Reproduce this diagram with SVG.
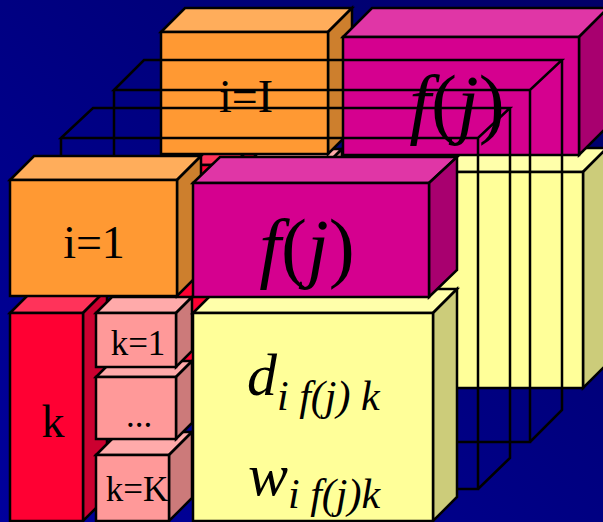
<svg xmlns="http://www.w3.org/2000/svg" width="603" height="522" viewBox="0 0 603 522">
<defs>
<linearGradient id="bg" x1="0" y1="1" x2="1" y2="0">
<stop offset="0" stop-color="#00009C"/>
<stop offset="1" stop-color="#000068"/>
</linearGradient>
<style>
.b{stroke:#000;stroke-width:2.5;stroke-linejoin:miter}
.o1{fill:#FF9933}.o2{fill:#FFAD5B}.o3{fill:#CD7F2D}
.m1{fill:#D5008F}.m2{fill:#E036A6}.m3{fill:#A8006F}
.y1{fill:#FFFF99}.y2{fill:#FFFFAA}.y3{fill:#CCCC7A}
.r1{fill:#FF0033}.r2{fill:#FF335A}.r3{fill:#CC0030}
.p1{fill:#FF9999}.p2{fill:#FFAAAA}.p3{fill:#CC7A7A}
.wf{fill:none;stroke:#000;stroke-width:2.5}
.t{font-family:"Liberation Serif","Times New Roman",serif;fill:#000}
.it{font-style:italic}
</style>
</defs>
<rect width="603" height="522" fill="url(#bg)"/>

<!-- back layer (i=I) -->
<g id="back-red">
<polygon class="b r2" points="160,165 184,141 257,141 233,165"/>
<polygon class="b r3" points="233,165 257,141 257,348 233,372"/>
<rect class="b r1" x="160" y="165" width="73" height="207"/>
</g>
<g id="back-pink">
<polygon class="b p2" points="246,165 262,149 342,149 326,165"/>
<polygon class="b p3" points="326,165 342,149 342,203 326,219"/>
<rect class="b p1" x="246" y="165" width="80" height="54"/>
</g>
<g id="back-yellow">
<polygon class="b y2" points="343,172 367,148 607,148 583,172"/>
<polygon class="b y3" points="583,172 607,148 607,364 583,388"/>
<rect class="b y1" x="343" y="172" width="240" height="216"/>
</g>
<g id="back-orange">
<polygon class="b o2" points="161,32 185,8 352,8 328,32"/>
<polygon class="b o3" points="328,32 352,8 352,130 328,154"/>
<rect class="b o1" x="161" y="32" width="167" height="122"/>
<text class="t" x="246" y="112" font-size="46" text-anchor="middle">i=I</text>
</g>
<g id="back-magenta">
<polygon class="b m2" points="343,37 372,8 608,8 579,37"/>
<polygon class="b m3" points="579,37 608,8 608,126 579,155"/>
<rect class="b m1" x="343" y="37" width="236" height="118"/>
<text class="t" x="457" y="129" font-size="78" text-anchor="middle"><tspan class="it">f</tspan>(<tspan class="it">j</tspan>)</text>
</g>

<!-- intermediate i-slices (wireframes) -->
<g id="connectors">
<g id="slice-1">
<path class="wf" d="M114,90 L144,60 L562,60 L530,90 Z M114,90 V442 H530 V90 M530,442 L562,410 V60"/>
</g>
<g id="slice-2">
<path class="wf" d="M61,138 L93,108 L510,108 L478,138 Z M61,138 V489 H478 V138 M478,489 L510,458 V108"/>
</g>
</g>

<!-- front layer (i=1) -->
<g id="red-k">
<polygon class="b r2" points="10,313 34,289 107,289 83,313"/>
<polygon class="b r3" points="83,313 107,289 107,497 83,521"/>
<rect class="b r1" x="10" y="313" width="73" height="208"/>
<text class="t" x="53" y="437" font-size="46" text-anchor="middle">k</text>
</g>
<g id="pink-kK">
<polygon class="b p2" points="96,455 119,432 192,432 169,455"/>
<polygon class="b p3" points="169,455 192,432 192,498 169,521"/>
<rect class="b p1" x="96" y="455" width="73" height="66"/>
<text class="t" x="137" y="501" font-size="35" text-anchor="middle">k=K</text>
</g>
<g id="pink-dots">
<polygon class="b p2" points="96,377 112,361 192,361 176,377"/>
<polygon class="b p3" points="176,377 192,361 192,423 176,439"/>
<rect class="b p1" x="96" y="377" width="80" height="62"/>
<text class="t" x="139" y="427" font-size="35" text-anchor="middle">...</text>
</g>
<g id="pink-k1">
<polygon class="b p2" points="96,313 112,297 192,297 176,313"/>
<polygon class="b p3" points="176,313 192,297 192,351 176,367"/>
<rect class="b p1" x="96" y="313" width="80" height="54"/>
<text class="t" x="138" y="355" font-size="35" text-anchor="middle">k=1</text>
</g>
<g id="yellow-d">
<polygon class="b y2" points="193,313 217,289 457,289 433,313"/>
<polygon class="b y3" points="433,313 457,289 457,497 433,521"/>
<rect class="b y1" x="193" y="313" width="240" height="208"/>
<text class="t it" x="247" y="395" font-size="60">d<tspan font-size="42" dy="15">i f(j) k</tspan></text>
<text class="t it" x="248" y="495" font-size="60">w<tspan font-size="42" dy="13">i f(j)k</tspan></text>
</g>
<g id="orange-i1">
<polygon class="b o2" points="10,180 34,156 201,156 177,180"/>
<polygon class="b o3" points="177,180 201,156 201,272 177,296"/>
<rect class="b o1" x="10" y="180" width="167" height="116"/>
<text class="t" x="94" y="258" font-size="46" text-anchor="middle">i=1</text>
</g>
<g id="magenta-f">
<polygon class="b m2" points="193,183 220,157 457,157 429,183"/>
<polygon class="b m3" points="429,183 457,157 457,270 429,297"/>
<rect class="b m1" x="193" y="183" width="236" height="114"/>
<text class="t" x="307" y="273" font-size="78" text-anchor="middle"><tspan class="it">f</tspan>(<tspan class="it">j</tspan>)</text>
</g>
</svg>
